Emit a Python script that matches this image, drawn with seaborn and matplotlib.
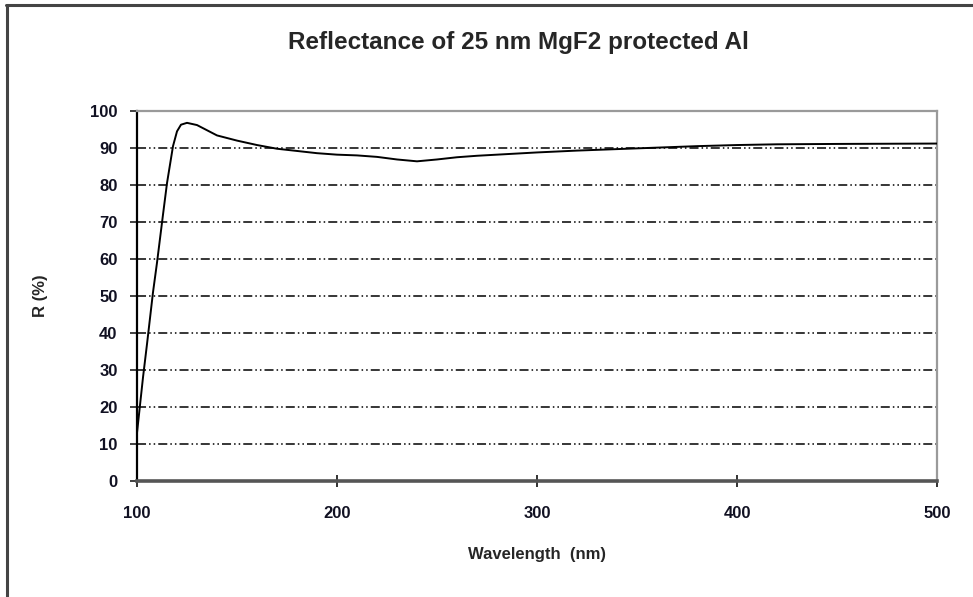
import matplotlib
matplotlib.use("Agg")
import matplotlib.pyplot as plt
import seaborn as sns
import pandas as pd
from matplotlib.lines import Line2D

# Reflectance spectrum of Al with a 25 nm MgF2 overcoat
wavelength_nm = [100, 103, 105, 108, 110, 113, 115, 118, 120, 122, 125, 130, 135, 140,
                 150, 160, 170, 180, 190, 200, 210, 220, 230, 240, 250, 260, 270,
                 280, 290, 300, 320, 340, 360, 380, 400, 420, 450, 500]
reflectance_pct = [13.0, 28.0, 37.0, 51.0, 59.0, 72.0, 80.5, 90.5, 94.5, 96.3, 96.8, 96.2,
                   94.8, 93.4, 92.0, 90.8, 89.8, 89.2, 88.6, 88.2, 88.0, 87.6, 86.9,
                   86.4, 86.9, 87.5, 87.9, 88.2, 88.5, 88.8, 89.3, 89.7, 90.1, 90.5,
                   90.8, 91.0, 91.1, 91.2]

x_ticks = [100, 200, 300, 400, 500]
y_ticks = [0, 10, 20, 30, 40, 50, 60, 70, 80, 90, 100]

sns.set_theme(style="white")
plt.rcParams["font.family"] = ["Liberation Sans", "DejaVu Sans"]
plt.rcParams["lines.scale_dashes"] = False

df = pd.DataFrame({"Wavelength": wavelength_nm, "R": reflectance_pct})

fig = plt.figure(figsize=(9.73, 5.97), dpi=100)
ax = fig.add_axes([137 / 973, 1 - 481 / 597, 800 / 973, 370 / 597])

# dash-dot-dot horizontal gridlines
for v in y_ticks[1:-1]:
    ax.axhline(v, color="black", lw=1.1, zorder=1,
               linestyle=(0, (6.5, 2.2, 1.1, 2.2, 1.1, 2.2)))

sns.lineplot(data=df, x="Wavelength", y="R", ax=ax, color="black",
             linewidth=1.4, zorder=3)

ax.set_xlim(100, 500)
ax.set_ylim(0, 100)
ax.set_xticks(x_ticks)
ax.set_yticks(y_ticks)
ax.set_xticklabels([str(t) for t in x_ticks], fontsize=12, fontweight="bold",
                   color="#111122")
ax.set_yticklabels([str(t) for t in y_ticks], fontsize=12, fontweight="bold",
                   color="#111122")
ax.tick_params(axis="x", direction="inout", length=8, width=1.3, color="#222222", pad=14)
ax.tick_params(axis="y", direction="out", length=5, width=1.3, color="#333333", pad=9)
ax.tick_params(left=True, bottom=True)

ax.set_xlabel("Wavelength  (nm)", fontsize=12, fontweight="bold", labelpad=19)
ax.set_ylabel("R (%)", fontsize=12, fontweight="bold", labelpad=30)

ax.spines["left"].set_color("black")
ax.spines["left"].set_linewidth(1.6)
ax.spines["bottom"].set_color("#555555")
ax.spines["bottom"].set_linewidth(2.6)
ax.spines["top"].set_color("#9a9a9a")
ax.spines["top"].set_linewidth(1.6)
ax.spines["right"].set_color("#9a9a9a")
ax.spines["right"].set_linewidth(1.6)
for s in ax.spines.values():
    s.set_visible(True)

fig.text(518 / 973, 1 - 43 / 597, "Reflectance of 25 nm MgF2 protected Al",
         ha="center", va="center", fontsize=17.5, fontweight="bold")

# outer chart frame (top and left edges)
fig.add_artist(Line2D([6 / 973, 1.0], [1 - 4.5 / 597, 1 - 4.5 / 597],
                      transform=fig.transFigure, color="#444444", lw=2.2))
fig.add_artist(Line2D([7 / 973, 7 / 973], [0, 1 - 4.5 / 597],
                      transform=fig.transFigure, color="#444444", lw=2.2))

fig.savefig("out.png", dpi=100)
